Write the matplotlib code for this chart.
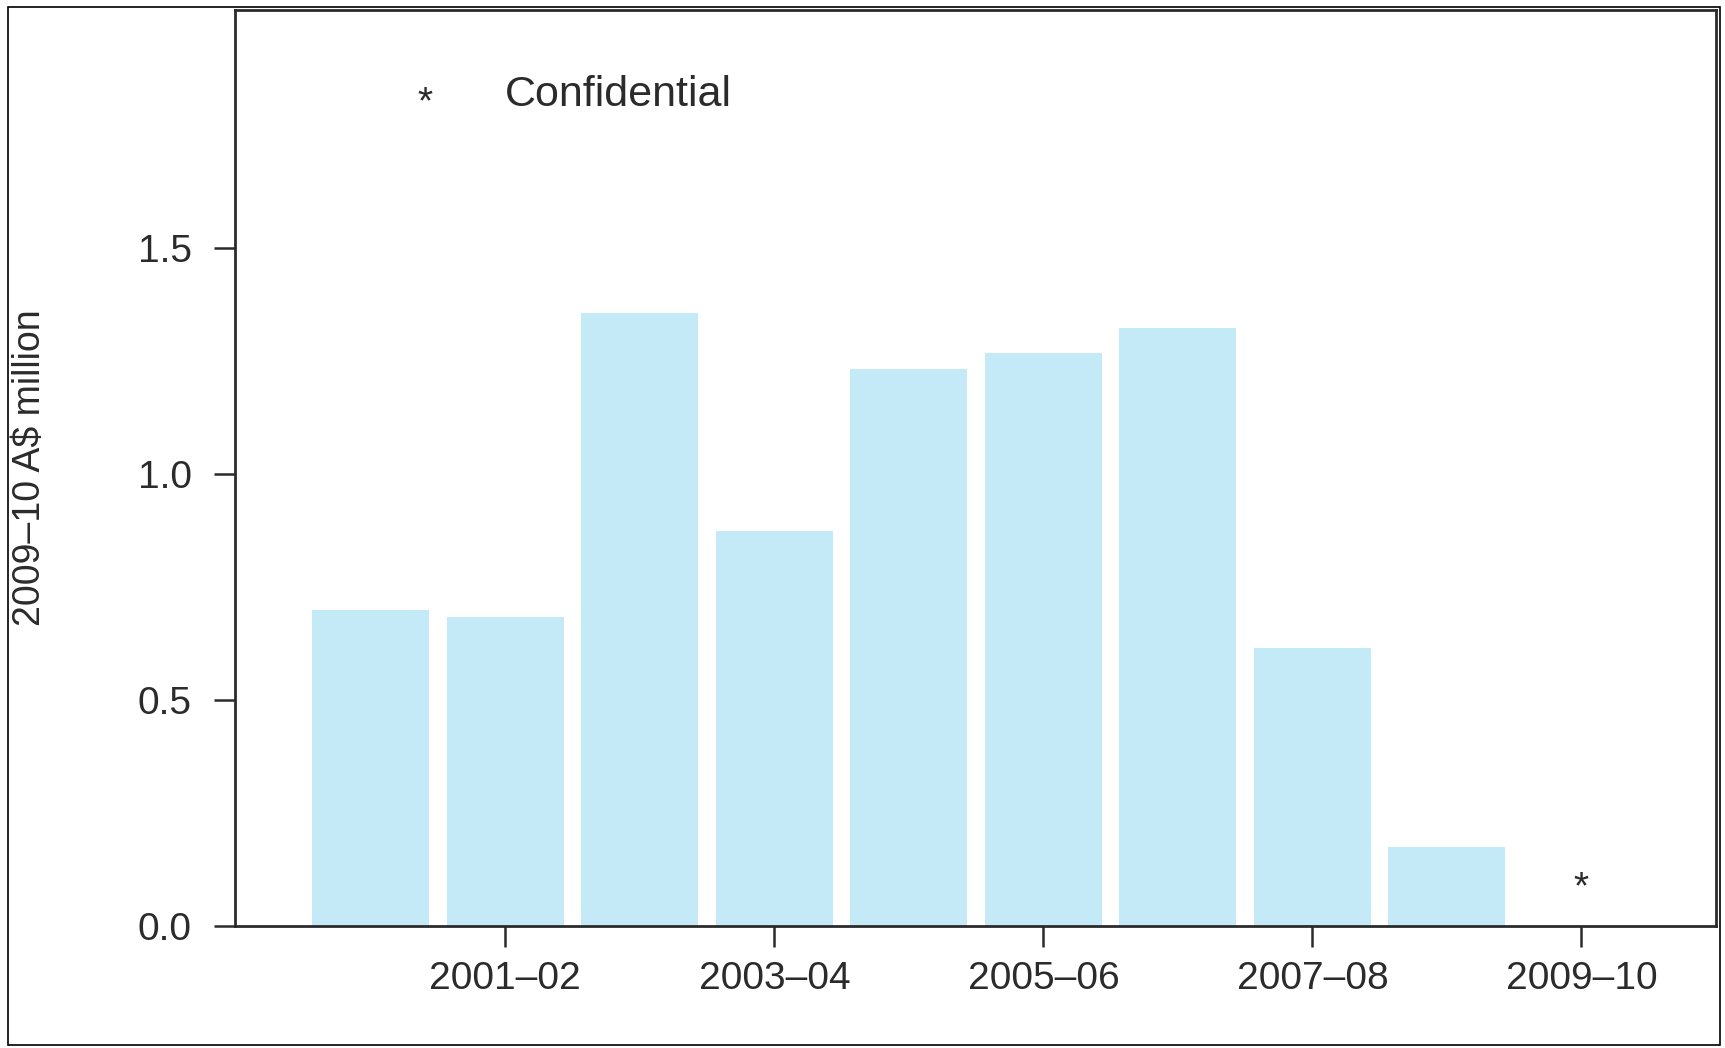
import matplotlib
matplotlib.use("Agg")
from matplotlib import pyplot as plt
from matplotlib.patches import Rectangle

# values (2009-10 A$ million)
years = ["2000-01", "2001-02", "2002-03", "2003-04", "2004-05",
         "2005-06", "2006-07", "2007-08", "2008-09", "2009-10"]
values = [0.699, 0.684, 1.356, 0.874, 1.233, 1.268, 1.324, 0.615, 0.174, 0.0]
confidential = ["2009-10"]
shown_ticks = ["2001-02", "2003-04", "2005-06", "2007-08", "2009-10"]

plt.rcParams['font.family'] = ['Liberation Sans', 'DejaVu Sans']
ink = '#2b2b2b'
bar_color = '#c4eaf7'

W, H = 1725, 1048
fig = plt.figure(figsize=(W / 100, H / 100), dpi=100)
ax = fig.add_axes([235 / W, (H - 926) / H, (1716 - 235) / W, (926 - 10) / H])

x = list(range(len(years)))
heights = [0 if y in confidential else v for y, v in zip(years, values)]
ax.bar(x, heights, width=0.87, color=bar_color, edgecolor='none')

# confidential marker
for i, y in enumerate(years):
    if y in confidential:
        ax.text(i, 0.084, "*", ha='center', va='center', fontsize=28, color=ink)

ax.text(0.40, 1.82, "*", ha='center', va='center', fontsize=28, color=ink)
ax.text(1.0, 1.84, "Confidential", ha='left', va='center', fontsize=31, color=ink)

ax.set_xlim(-1.01, 10.0)
ax.set_ylim(0, 2.027)
ax.set_yticks([0.0, 0.5, 1.0, 1.5])
ax.set_yticklabels(["0.0", "0.5", "1.0", "1.5"])
ax.set_xticks([years.index(t) for t in shown_ticks])
ax.set_xticklabels([t.replace("-", "\u2013") for t in shown_ticks])

ax.tick_params(axis='both', direction='out', length=15, width=1.8, colors=ink,
               labelsize=28, labelcolor=ink)
ax.tick_params(axis='y', pad=16)
ax.tick_params(axis='x', pad=10)

for side in ['left', 'bottom', 'right', 'top']:
    ax.spines[side].set_color(ink)
    ax.spines[side].set_linewidth(2.0)

ax.set_ylabel("2009\u201310 A$ million", fontsize=27, color=ink,
              family=['Liberation Sans Narrow', 'Liberation Sans', 'DejaVu Sans'])
ax.yaxis.set_label_coords(-0.126, 0.5)

# thin frame round the whole picture
fig.patches.append(Rectangle((8 / W, 3 / H), (1720 - 8) / W, (1045 - 7) / H,
                             transform=fig.transFigure, fill=False,
                             linewidth=1.2, edgecolor='black'))

fig.savefig("out.png", dpi=100, facecolor='white')
